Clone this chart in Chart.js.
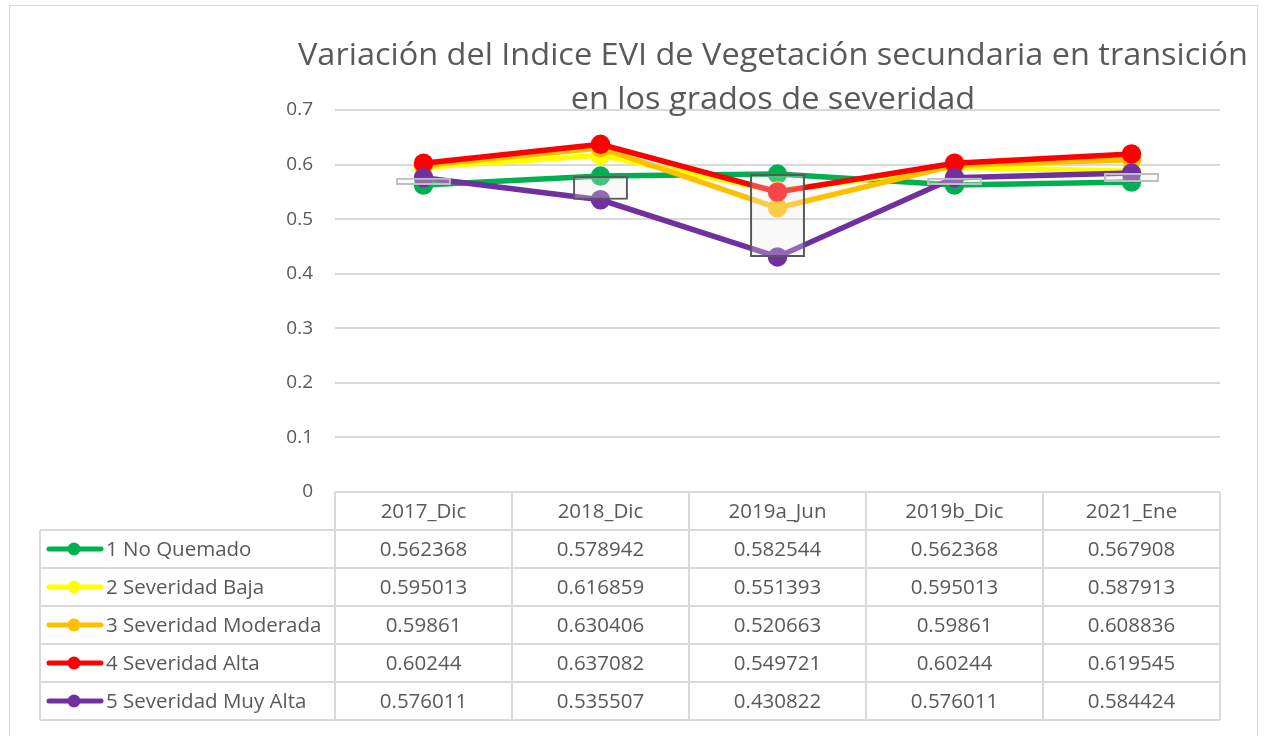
<!DOCTYPE html>
<html>
<head>
<meta charset="utf-8">
<script src="https://cdn.jsdelivr.net/npm/chart.js@4"></script>
<style>
  body { margin: 0; background: #fff; }
  #wrap { width: 1266px; height: 736px; position: relative; }
</style>
</head>
<body>
<div id="wrap"><canvas id="evi"></canvas></div>
<script>
const categorias = ['2017_Dic', '2018_Dic', '2019a_Jun', '2019b_Dic', '2021_Ene'];
const nombres = ['1 No Quemado', '2 Severidad Baja', '3 Severidad Moderada', '4 Severidad Alta', '5 Severidad Muy Alta'];
const noQuemado   = [0.562368, 0.578942, 0.582544, 0.562368, 0.567908];
const sevBaja     = [0.595013, 0.616859, 0.551393, 0.595013, 0.587913];
const sevModerada = [0.59861, 0.630406, 0.520663, 0.59861, 0.608836];
const sevAlta     = [0.60244, 0.637082, 0.549721, 0.60244, 0.619545];
const sevMuyAlta  = [0.576011, 0.535507, 0.430822, 0.576011, 0.584424];
const yMax = 0.7;
const yPaso = 0.1;
const titulo = ['Variación del Indice EVI de Vegetación secundaria en transición', 'en los grados de severidad'];

const series = [noQuemado, sevBaja, sevModerada, sevAlta, sevMuyAlta];
const colores = ['#00b050', '#ffff00', '#ffc000', '#ff0000', '#7030a0'];
const gris = '#595959';

Chart.defaults.font.family = "'Open Sans', sans-serif";
Chart.defaults.color = gris;

// barras arriba/abajo entre la primera y la última serie (como en Excel)
const barras = categorias.map((c, i) => [noQuemado[i], sevMuyAlta[i]]);
const bordeBarras = barras.map(b => b[1] >= b[0] ? '#bfbfbf' : '#595959');

const datasets = [{
    type: 'bar',
    data: barras,
    backgroundColor: 'rgba(235,235,235,0.3)',
    borderColor: bordeBarras,
    borderWidth: 2,
    borderSkipped: false,
    barPercentage: 0.31,
    categoryPercentage: 1,
    order: 0
}];
series.forEach((s, i) => {
    datasets.push({
        type: 'line',
        label: nombres[i],
        data: s,
        borderColor: colores[i],
        backgroundColor: colores[i],
        borderWidth: 5.5,
        pointRadius: 7,
        pointHoverRadius: 7,
        tension: 0,
        order: 5 - i
    });
});

const LEYENDA_X = 40;
const FILA = 38;

const tablaPlugin = {
    id: 'tabla',
    afterDraw(chart) {
        const ctx = chart.ctx;
        const x = chart.scales.x;
        const area = chart.chartArea;
        const ancho = (area.right - area.left) / categorias.length;
        const top = area.bottom;
        const filasTop = top + FILA;
        const bottom = filasTop + FILA * nombres.length;

        ctx.save();
        // marco del gráfico
        ctx.strokeStyle = '#d9d9d9';
        ctx.lineWidth = 1;
        ctx.strokeRect(9.5, 5.5, 1248, 740);

        // líneas de la tabla
        ctx.strokeStyle = '#d9d9d9';
        ctx.lineWidth = 2;
        ctx.beginPath();
        ctx.moveTo(area.left, top); ctx.lineTo(area.right, top);
        for (let r = 0; r <= nombres.length; r++) {
            const y = filasTop + r * FILA;
            ctx.moveTo(LEYENDA_X, y); ctx.lineTo(area.right, y);
        }
        ctx.moveTo(LEYENDA_X, filasTop); ctx.lineTo(LEYENDA_X, bottom);
        for (let c = 0; c <= categorias.length; c++) {
            const xx = area.left + c * ancho;
            ctx.moveTo(xx, top); ctx.lineTo(xx, bottom);
        }
        ctx.stroke();

        ctx.fillStyle = gris;
        ctx.font = "20.5px 'Open Sans'";
        ctx.textBaseline = 'middle';
        ctx.textAlign = 'center';
        categorias.forEach((c, i) => {
            ctx.fillText(c, x.getPixelForValue(i), top + FILA / 2 + 1);
        });
        series.forEach((s, r) => {
            const yc = filasTop + r * FILA + FILA / 2 + 1;
            ctx.textAlign = 'center';
            s.forEach((v, i) => ctx.fillText(String(v), x.getPixelForValue(i), yc));
            // clave de la leyenda
            ctx.strokeStyle = colores[r];
            ctx.lineWidth = 5;
            ctx.lineCap = 'round';
            ctx.beginPath();
            ctx.moveTo(49, yc - 1); ctx.lineTo(101, yc - 1);
            ctx.stroke();
            ctx.fillStyle = colores[r];
            ctx.beginPath();
            ctx.arc(74, yc - 1, 6.5, 0, Math.PI * 2);
            ctx.fill();
            ctx.fillStyle = gris;
            ctx.textAlign = 'left';
            ctx.fillText(nombres[r], 106, yc);
        });

        // título (se superpone al área de trazado, como en el original)
        ctx.font = "31px 'Open Sans'";
        ctx.textAlign = 'center';
        ctx.textBaseline = 'middle';
        const cx = 773;
        const w0 = ctx.measureText(titulo[0]).width;
        const escala = 950 / w0;
        [56, 100].forEach((y, i) => {
            ctx.save();
            ctx.translate(cx, y);
            ctx.scale(escala, 1);
            ctx.fillText(titulo[i], 0, 0);
            ctx.restore();
        });
        ctx.restore();
    }
};

new Chart(document.getElementById('evi'), {
    data: { labels: categorias, datasets: datasets },
    options: {
        responsive: true,
        maintainAspectRatio: false,
        animation: false,
        layout: { padding: { left: 0, right: 46, top: 110, bottom: 244 } },
        plugins: {
            legend: { display: false },
            title: { display: false },
            tooltip: { enabled: false }
        },
        scales: {
            x: {
                display: false,
                offset: true
            },
            y: {
                min: 0,
                max: yMax,
                ticks: { stepSize: yPaso, padding: 22, font: { size: 19 }, color: gris },
                grid: { color: '#d9d9d9', lineWidth: 2, drawTicks: false },
                border: { display: false },
                afterFit(scale) { scale.width = 335; }
            }
        }
    },
    plugins: [tablaPlugin]
});
</script>
</body>
</html>
